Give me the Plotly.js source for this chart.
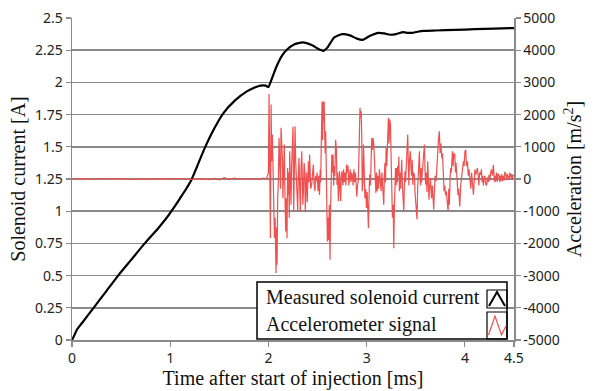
<!DOCTYPE html>
<html>
<head>
<meta charset="utf-8">
<script src="https://cdn.plot.ly/plotly-3.0.1.min.js"></script>
<style>html,body{margin:0;padding:0;background:#fff;}#chart{width:595px;height:391px;}</style>
</head>
<body>
<div id="chart"></div>
<script>
// ---- Data ----
const currentTime = [0, 0.02, 0.05, 0.1, 0.22, 0.35, 0.47, 0.6, 0.74, 0.88, 0.96, 1.03, 1.1, 1.16, 1.22, 1.34, 1.44, 1.54, 1.66, 1.78, 1.86, 1.92, 1.97, 2.0, 2.03, 2.08, 2.14, 2.19, 2.26, 2.35, 2.44, 2.52, 2.56, 2.6, 2.67, 2.75, 2.83, 2.9, 2.96, 3.03, 3.12, 3.18, 3.24, 3.3, 3.37, 3.42, 3.47, 3.53, 3.58, 3.7, 3.9, 4.1, 4.3, 4.5];
const currentAmps = [0, 0.03, 0.08, 0.13, 0.25, 0.38, 0.5, 0.62, 0.75, 0.87, 0.945, 1.02, 1.1, 1.17, 1.25, 1.47, 1.63, 1.76, 1.86, 1.93, 1.96, 1.975, 1.975, 1.965, 2.02, 2.12, 2.21, 2.255, 2.295, 2.31, 2.29, 2.255, 2.245, 2.27, 2.35, 2.375, 2.365, 2.34, 2.33, 2.36, 2.385, 2.38, 2.37, 2.375, 2.39, 2.385, 2.385, 2.395, 2.40, 2.403, 2.408, 2.413, 2.418, 2.422];

const accelTime = [0, 0.1, 0.2, 0.3, 0.4, 0.5, 0.6, 0.7, 0.8, 0.9, 1.0, 1.1, 1.2, 1.3, 1.4, 1.45, 1.5, 1.55, 1.6, 1.65, 1.7, 1.75, 1.8, 1.85, 1.9, 1.95, 1.98,
2.000, 2.006, 2.013, 2.020, 2.027, 2.033, 2.040, 2.047, 2.054, 2.061, 2.068, 2.077, 2.083, 2.088, 2.094, 2.100, 2.108, 2.113, 2.118, 2.123, 2.128, 2.135, 2.142, 2.147, 2.152, 2.157, 2.162, 2.168, 2.176, 2.182, 2.189, 2.195, 2.200, 2.206, 2.212, 2.216, 2.223, 2.230, 2.236, 2.243, 2.250, 2.257, 2.263, 2.271, 2.277, 2.284, 2.290, 2.298, 2.305, 2.311, 2.318, 2.325, 2.332, 2.339, 2.345, 2.350, 2.356, 2.363, 2.370, 2.375, 2.381, 2.388, 2.395, 2.401, 2.407, 2.413, 2.419, 2.424, 2.430, 2.440, 2.447, 2.457, 2.464, 2.474, 2.480, 2.488, 2.495,
2.505, 2.512, 2.520, 2.527, 2.532, 2.540, 2.546, 2.552, 2.558, 2.563, 2.567, 2.572, 2.578, 2.583, 2.588, 2.594, 2.600, 2.607, 2.613, 2.620, 2.627, 2.632, 2.638, 2.645, 2.650, 2.658, 2.664, 2.670, 2.676, 2.684, 2.692, 2.698, 2.705, 2.712, 2.718, 2.724, 2.730, 2.736, 2.742, 2.750, 2.757, 2.765, 2.772, 2.780, 2.788, 2.795, 2.802, 2.810, 2.818, 2.825, 2.832, 2.840, 2.848, 2.855, 2.862, 2.870, 2.878, 2.885, 2.893, 2.900, 2.907, 2.913, 2.919,
2.925, 2.932, 2.939, 2.944, 2.950, 2.955, 2.962, 2.968, 2.975, 2.982, 2.990, 2.998, 3.005, 3.012, 3.018, 3.024, 3.030, 3.038, 3.045, 3.052, 3.058, 3.064, 3.072, 3.080, 3.087, 3.094, 3.100, 3.108, 3.115, 3.122, 3.130, 3.138, 3.147, 3.155, 3.162, 3.174, 3.180, 3.186, 3.192, 3.198, 3.205, 3.212, 3.221, 3.228, 3.235, 3.242, 3.248, 3.256, 3.262, 3.270, 3.276, 3.282, 3.288, 3.294, 3.300, 3.306, 3.312, 3.316, 3.322, 3.328, 3.333, 3.340, 3.346, 3.352, 3.357, 3.364, 3.372, 3.378, 3.384, 3.390, 3.396, 3.404, 3.410, 3.418, 3.424, 3.430, 3.436, 3.445, 3.452, 3.458, 3.464, 3.469, 3.476, 3.486, 3.492, 3.498, 3.505, 3.513, 3.519, 3.525, 3.531, 3.537, 3.543, 3.549, 3.554, 3.560, 3.566, 3.572, 3.580, 3.588, 3.594, 3.600, 3.606, 3.614, 3.622, 3.628, 3.634, 3.640, 3.649, 3.655, 3.661, 3.668, 3.675, 3.683, 3.690, 3.697, 3.707, 3.714, 3.722, 3.730, 3.740, 3.747, 3.755, 3.765, 3.772, 3.780, 3.788, 3.795, 3.802, 3.810,
3.818, 3.829, 3.836, 3.842, 3.850, 3.856, 3.862, 3.868, 3.873, 3.880, 3.887, 3.897, 3.904, 3.910, 3.917, 3.924, 3.930, 3.936, 3.941, 3.948, 3.958, 3.966, 3.975, 3.985, 3.992, 4.000, 4.009, 4.016, 4.026, 4.034, 4.042, 4.052, 4.060, 4.068, 4.076, 4.082, 4.087, 4.095, 4.102, 4.110, 4.118, 4.127, 4.135, 4.142, 4.150, 4.161, 4.168, 4.175, 4.182, 4.188, 4.195, 4.202, 4.210, 4.216, 4.222, 4.230, 4.238, 4.246, 4.254, 4.262, 4.270, 4.280, 4.290, 4.296, 4.303, 4.310, 4.314, 4.322, 4.330, 4.338, 4.348, 4.356, 4.362, 4.370, 4.376, 4.382, 4.390, 4.398, 4.406, 4.416, 4.424, 4.432, 4.440, 4.450, 4.458, 4.466, 4.474, 4.482, 4.490, 4.500];
const accelValue = [0, 10, -10, 15, -5, 10, -15, 5, -10, 10, -5, 15, -10, 5, -20, 20, -30, 40, -20, 30, -10, 15, -15, 10, -10, 30, 0,
200, 2640, 860, -1830, 2310, 550, 1380, -200, -690, -1830, -1200, -2920, -1500, -2660, -600, -180, 1270, 400, 550, -300, 1590, 1000, 650, -600, -180, 800, 1070, -500, -1630, -600, -1840, 340, -490, 200, -1200, 860, -300, -800, 400, 1070, 1620, -1000, 300, 1640, 600, -180, -400, -1000, 200, 650, -200, -1010, 300, 860, 100, -800, -400, 500, 240, -1030, -300, 200, -720, 300, 550, -100, 760, 300, -300, -180, 200, 450, -100, -380, 100, -70, 200,
-380, 100, -500, 300, -100, 1500, 2410, 1200, 2400, 1800, 2410, 1480, 800, 1480, -300, -1000, -1940, -1200, -1900, -800, -2510, -1000, -400, 760, 200, 760, -200, 400, 100, 1220, 900, -180, 200, -690, -100, 240, -400, -690, 100, 240, -200, 300, -100, 200, -200, 450, 200, 420, -200, 100, 300, -100, 200, 100, -200, 300, -100, 200, -300, -550, -200, -100, 400,
1500, 2210, 1900, 2100, 1300, -380, -100, 1070, 300, -600, -300, -900, -400, -1210, -1530, -600, 130, -200, 500, 1270, 900, 1270, 1100, 300, -180, -430, 200, -380, 100, -300, 300, -200, -380, 200, -300, -800, 100, 500, -100, 960, 400, 1500, 1900, 1100, 1850, 1690, 800, -490, -1200, -800, -2150, -900, 100, 340, -200, 340, -100, 400, 100, 700, -380, 200, -300, 300, 600, -200, -600, -1000, -200, 240, -100, 500, 1020, 1380, 500, -200, 600, 860, 300, 100, 600, -180, 200, 130, -400, -700, -900, -1260, -300, 200, 500, 860, 100, -200, 340, -100, 200, 500, 800, 1070, 300, -170, 200, -400, 550, 100, -640, -300, 30, -300, -600, -200, -700, -950, -300, 100, -70, 400, 900, 1200, 1480, 800, 1100, 650, 800, -100, -380, -200, -500, -380,
-700, -1000, -300, -800, 100, 340, 200, 700, 860, 400, 800, 760, 200, 500, 240, -200, -500, -300, -700, -850, -180, 100, 300, 550, 400, 860, 910, 400, 550, 100, 300, 30, -300, 200, -180, -300, -490, -100, 300, 130, 200, 340, 100, -200, 200, 130, 300, -100, 100, -200, -20, 100, -100, -200, -180, 50, -100, 130, -50, 200, 300, 100, 440, 150, -100, 100, -70, 200, -80, 150, 130, -100, 100, -50, 150, -70, 100, -50, 200, 180, -40, 150, 50, -20, 200, 50, 150, -30, 120, 100];

const xTickVals = [0, 1, 2, 3, 4, 4.5];
const xTickText = ['0', '1', '2', '3', '4', '4.5'];
const yLeftTickVals = [0, 0.25, 0.5, 0.75, 1, 1.25, 1.5, 1.75, 2, 2.25, 2.5];
const yLeftTickText = ['0', '0.25', '0.5', '0.75', '1', '1.25', '1.5', '1.75', '2', '2.25', '2.5'];
const yRightTickVals = [-5000, -4000, -3000, -2000, -1000, 0, 1000, 2000, 3000, 4000, 5000];
const yRightTickText = ['-5000', '-4000', '-3000', '-2000', '-1000', '0', '1000', '2000', '3000', '4000', '5000'];
const legendLabels = ['Measured solenoid current', 'Accelerometer signal'];

// ---- Layout helpers (pixel -> paper) ----
const L = 72, R = 514, T = 18, B = 340;
const px = x => (x - L) / (R - L);
const py = y => (B - y) / (B - T);

const gridCol = '#8a8a8a';
const tickFont = {family: 'Noto Sans, Open Sans, sans-serif', size: 14, color: '#222'};
const titleFont = {family: 'Liberation Serif, Times New Roman, serif', size: 20, color: '#111'};
const red = 'rgb(240,80,80)';

const traces = [
  {x: accelTime, y: accelValue, type: 'scatter', mode: 'lines', yaxis: 'y2',
   line: {color: red, width: 1.2}, name: legendLabels[1], showlegend: false, hoverinfo: 'skip'},
  {x: currentTime, y: currentAmps, type: 'scatter', mode: 'lines',
   line: {color: '#000', width: 2.2, shape: 'spline', smoothing: 0.5}, name: legendLabels[0], showlegend: false, hoverinfo: 'skip'}
];

const shapes = [
  {type: 'rect', xref: 'paper', yref: 'paper', x0: px(257), x1: px(507), y0: py(339), y1: py(282),
   line: {color: '#000', width: 1.5}, fillcolor: '#fff', layer: 'above'},
  {type: 'rect', xref: 'paper', yref: 'paper', x0: px(487), x1: px(507), y0: py(308), y1: py(290),
   line: {color: '#000', width: 1.2}, fillcolor: 'rgba(0,0,0,0)', layer: 'above'},
  {type: 'rect', xref: 'paper', yref: 'paper', x0: px(487), x1: px(507), y0: py(339), y1: py(312),
   line: {color: '#000', width: 1.2}, fillcolor: 'rgba(0,0,0,0)', layer: 'above'},
  {type: 'path', xref: 'paper', yref: 'paper', layer: 'above',
   path: `M ${px(489)} ${py(306)} L ${px(497)} ${py(292)} L ${px(505)} ${py(306)}`,
   line: {color: '#000', width: 2}},
  {type: 'path', xref: 'paper', yref: 'paper', layer: 'above',
   path: `M ${px(488.5)} ${py(335)} L ${px(495)} ${py(316)} L ${px(501.5)} ${py(335)} L ${px(506)} ${py(326)}`,
   line: {color: red, width: 1.2}}
];

const annotations = [
  {xref: 'paper', yref: 'paper', x: px(264), y: py(297), xanchor: 'left', yanchor: 'middle',
   text: legendLabels[0], showarrow: false, font: titleFont},
  {xref: 'paper', yref: 'paper', x: px(264), y: py(324), xanchor: 'left', yanchor: 'middle',
   text: legendLabels[1], showarrow: false, font: titleFont}
];

const layout = {
  width: 595, height: 391,
  margin: {l: L, r: 595 - R, t: T, b: 391 - B, pad: 0},
  paper_bgcolor: '#fff', plot_bgcolor: '#fff',
  showlegend: false,
  xaxis: {
    range: [0, 4.5], tickmode: 'array', tickvals: xTickVals, ticktext: xTickText,
    showgrid: false, zeroline: false, showline: true, linecolor: gridCol, linewidth: 1.5,
    ticks: 'outside', ticklen: 5, tickcolor: gridCol, tickwidth: 1.2, tickfont: tickFont,
    title: {text: 'Time after start of injection [ms]', font: titleFont, standoff: 2}
  },
  yaxis: {
    range: [0, 2.5], tickmode: 'array', tickvals: yLeftTickVals, ticktext: yLeftTickText,
    showgrid: true, gridcolor: gridCol, gridwidth: 1.5, zeroline: false,
    showline: true, linecolor: gridCol, linewidth: 1.5,
    ticks: 'outside', ticklen: 5, tickcolor: gridCol, tickwidth: 1.2, tickfont: tickFont,
    title: {text: 'Solenoid current [A]', font: titleFont, standoff: 4}
  },
  yaxis2: {
    range: [-5000, 5000], overlaying: 'y', side: 'right', anchor: 'x',
    tickmode: 'array', tickvals: yRightTickVals, ticktext: yRightTickText,
    showgrid: false, zeroline: false, showline: true, linecolor: gridCol, linewidth: 1.5,
    ticks: 'outside', ticklen: 5, tickcolor: gridCol, tickwidth: 1.2, tickfont: tickFont,
    title: {text: 'Acceleration [m/s<sup>2</sup>]', font: titleFont, standoff: 8}
  },
  shapes: shapes,
  annotations: annotations
};

Plotly.newPlot('chart', traces, layout, {displayModeBar: false, staticPlot: true});
</script>
</body>
</html>
